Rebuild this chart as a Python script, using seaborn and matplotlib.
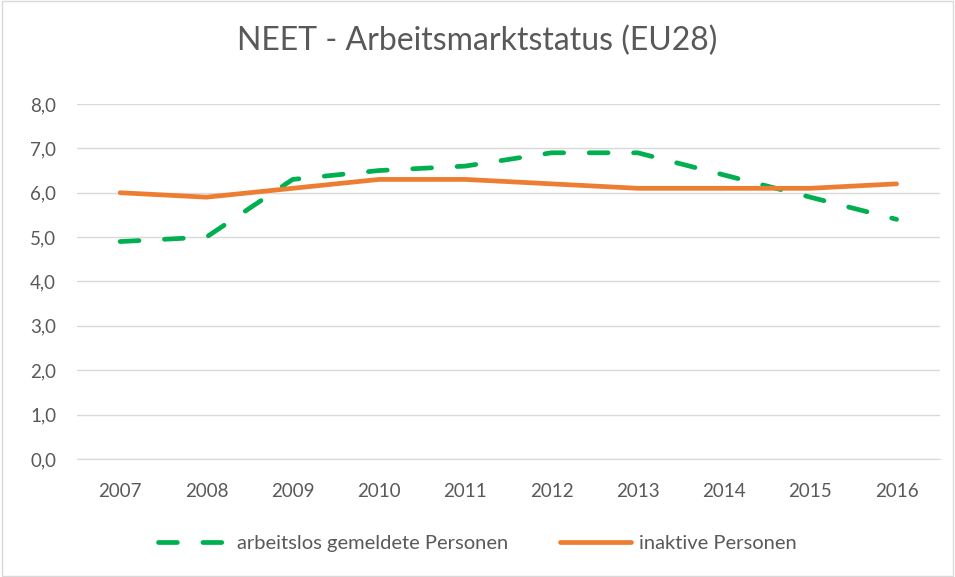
import pandas as pd
import seaborn as sns
import matplotlib.pyplot as plt
from matplotlib.patches import Rectangle
from matplotlib.ticker import FuncFormatter

# Werte
jahre = [2007, 2008, 2009, 2010, 2011, 2012, 2013, 2014, 2015, 2016]
arbeitslos = [4.9, 5.0, 6.3, 6.5, 6.6, 6.9, 6.9, 6.4, 5.9, 5.4]
inaktiv = [6.0, 5.9, 6.1, 6.3, 6.3, 6.2, 6.1, 6.1, 6.1, 6.2]

df = pd.DataFrame({'Jahr': jahre, 'arbeitslos': arbeitslos, 'inaktiv': inaktiv})

sns.set_style("white")
plt.rcParams['font.family'] = ['Lato', 'DejaVu Sans']

grau = '#595959'
fig = plt.figure(figsize=(9.55, 5.77), dpi=100)
ax = fig.add_axes([0.0806, 0.2045, 0.9034, 0.6153])

sns.lineplot(data=df, x='Jahr', y='arbeitslos', ax=ax, color='#00b050',
             linewidth=3.4, label='arbeitslos gemeldete Personen',
             dashes=False, solid_capstyle='round')
ax.lines[-1].set_dashes((4, 5.4))
ax.lines[-1].set_dash_capstyle('round')
sns.lineplot(data=df, x='Jahr', y='inaktiv', ax=ax, color='#ed7d31',
             linewidth=3.4, label='inaktive Personen', solid_capstyle='round')

ax.set_xlim(2006.5, 2016.5)
ax.set_ylim(0, 8)
ax.set_yticks([0, 1, 2, 3, 4, 5, 6, 7, 8])
ax.set_xticks(jahre)
ax.yaxis.set_major_formatter(FuncFormatter(lambda v, p: f"{v:.1f}".replace('.', ',')))
ax.grid(axis='y', color='#d9d9d9', linewidth=1)
ax.set_axisbelow(True)
for s in ['top', 'right', 'left']:
    ax.spines[s].set_visible(False)
ax.spines['bottom'].set_color('#d9d9d9')
ax.tick_params(axis='both', colors=grau, labelsize=13.5, length=0)
ax.tick_params(axis='y', pad=15)
ax.tick_params(axis='x', pad=17)
ax.set_xlabel('')
ax.set_ylabel('')

fig.suptitle('NEET - Arbeitsmarktstatus (EU28)', y=0.955, fontsize=23, color=grau)

h, l = ax.get_legend_handles_labels()
ax.legend_.remove()
fig.legend(h, l, loc='center', bbox_to_anchor=(0.5, 0.058), ncol=2, frameon=False,
           fontsize=14.5, labelcolor=grau, handlelength=3.5, columnspacing=2.6,
           handletextpad=0.4)

fig.patches.append(Rectangle((0.002, 0.002), 0.996, 0.996, transform=fig.transFigure,
                             fill=False, edgecolor='#d9d9d9', linewidth=1))

fig.savefig('out.png', dpi=100)
